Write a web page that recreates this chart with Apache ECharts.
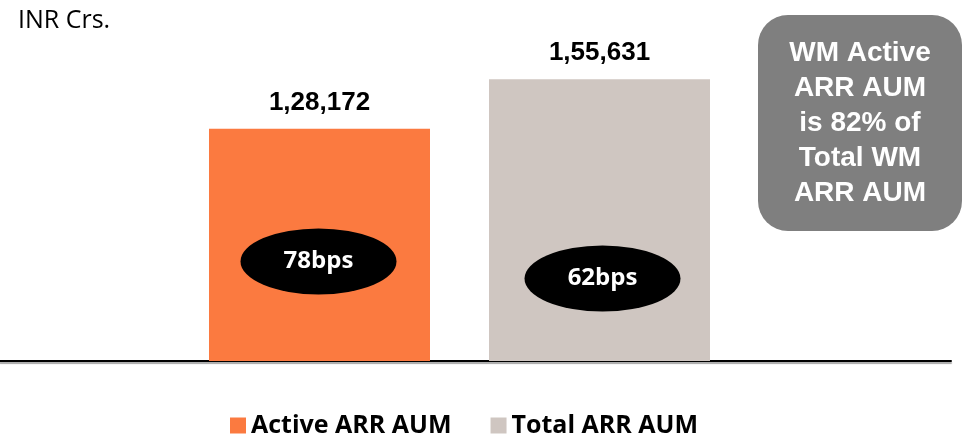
<!DOCTYPE html>
<html>
<head>
<meta charset="utf-8">
<title>ARR AUM</title>
<script src="https://cdn.jsdelivr.net/npm/echarts@6/dist/echarts.min.js"></script>
<style>
  html, body { margin: 0; padding: 0; background: #ffffff; }
  #chart { width: 962px; height: 435px; }
</style>
</head>
<body>
<div id="chart"></div>
<script>
// AUM figures in INR crores
const categories = ['ARR AUM'];
const seriesNames = ['Active ARR AUM', 'Total ARR AUM'];
const activeValues = [128172];
const totalValues = [155631];
// yield annotations (bps) and the height on the value axis where each badge sits
const yieldLabels = ['78bps', '62bps'];
const badgeLevels = [55000, 45500];
const unitLabel = 'INR Crs.';
const noteLines = ['WM Active', 'ARR AUM', 'is 82% of', 'Total WM', 'ARR AUM'];

const ORANGE = '#FB7A40';
const GREY = '#CFC6C1';

// Indian digit grouping: 1,28,172
function formatIndian(n) {
  const s = String(Math.round(n));
  if (s.length <= 3) return s;
  const last3 = s.slice(-3);
  let rest = s.slice(0, -3);
  const parts = [];
  while (rest.length > 2) {
    parts.unshift(rest.slice(-2));
    rest = rest.slice(0, -2);
  }
  if (rest) parts.unshift(rest);
  return parts.join(',') + ',' + last3;
}

const chart = echarts.init(document.getElementById('chart'), null, { renderer: 'canvas' });

function badge(text, level, dx) {
  return {
    symbol: 'circle',
    symbolSize: [156, 66],
    symbolOffset: [dx, 0],
    itemStyle: { color: '#000000' },
    label: {
      show: true,
      formatter: text,
      color: '#ffffff',
      fontSize: 24,
      fontWeight: 'bold',
      fontFamily: '"Open Sans", sans-serif'
    },
    data: [{ coord: [categories[0], level] }]
  };
}

const valueLabel = {
  show: true,
  position: 'top',
  distance: 13,
  color: '#000000',
  fontSize: 26,
  fontWeight: 'bold',
  fontFamily: '"Liberation Sans", Arial, sans-serif',
  formatter: p => formatIndian(p.value)
};

const option = {
  animation: false,
  backgroundColor: '#ffffff',
  title: {
    text: unitLabel,
    left: 13,
    top: 3,
    textStyle: {
      color: '#000000',
      fontSize: 25,
      fontWeight: 'normal',
      fontFamily: '"Open Sans", sans-serif'
    }
  },
  legend: {
    data: seriesNames,
    left: 225,
    top: 408,
    icon: 'rect',
    itemWidth: 16,
    itemHeight: 16,
    itemGap: 39,
    textStyle: {
      color: '#000000',
      fontSize: 25,
      fontWeight: 'bold',
      fontFamily: '"Open Sans", sans-serif'
    }
  },
  grid: [
    { left: 0, right: 43, top: 35, bottom: 74 },
    { left: 0, right: 11, top: 35, bottom: 74 }
  ],
  xAxis: [
    {
      type: 'category',
      gridIndex: 0,
      data: categories,
      axisLine: { show: false },
      axisTick: { show: false },
      axisLabel: { show: false }
    },
    {
      type: 'category',
      gridIndex: 1,
      data: categories,
      axisLine: {
        show: true,
        lineStyle: {
          color: '#000000',
          width: 2,
          shadowColor: 'rgba(0,0,0,0.35)',
          shadowOffsetY: 2,
          shadowBlur: 1
        }
      },
      axisTick: { show: false },
      axisLabel: { show: false }
    }
  ],
  yAxis: [
    { type: 'value', gridIndex: 0, min: 0, max: 180000, show: false, splitLine: { show: false } },
    { type: 'value', gridIndex: 1, min: 0, max: 180000, show: false, splitLine: { show: false } }
  ],
  series: [
    {
      name: seriesNames[0],
      type: 'bar',
      xAxisIndex: 0,
      yAxisIndex: 0,
      data: activeValues,
      barWidth: 221,
      barGap: '26.7%',
      itemStyle: { color: ORANGE },
      label: valueLabel,
      markPoint: badge(yieldLabels[0], badgeLevels[0], -1)
    },
    {
      name: seriesNames[1],
      type: 'bar',
      xAxisIndex: 0,
      yAxisIndex: 0,
      data: totalValues,
      barWidth: 221,
      barGap: '26.7%',
      itemStyle: { color: GREY },
      label: valueLabel,
      markPoint: badge(yieldLabels[1], badgeLevels[1], 3)
    }
  ],
  graphic: [
    {
      type: 'group',
      left: 758,
      top: 15,
      children: [
        {
          type: 'rect',
          shape: { x: 0, y: 0, width: 204, height: 216, r: 30 },
          style: { fill: '#7F7F7F' }
        },
        {
          type: 'text',
          x: 102,
          y: 108,
          style: {
            text: noteLines.join('\n'),
            fill: '#ffffff',
            font: 'bold 28px "Liberation Sans", Arial, sans-serif',
            lineHeight: 35,
            align: 'center',
            verticalAlign: 'middle'
          }
        }
      ]
    }
  ]
};

chart.setOption(option);
</script>
</body>
</html>
